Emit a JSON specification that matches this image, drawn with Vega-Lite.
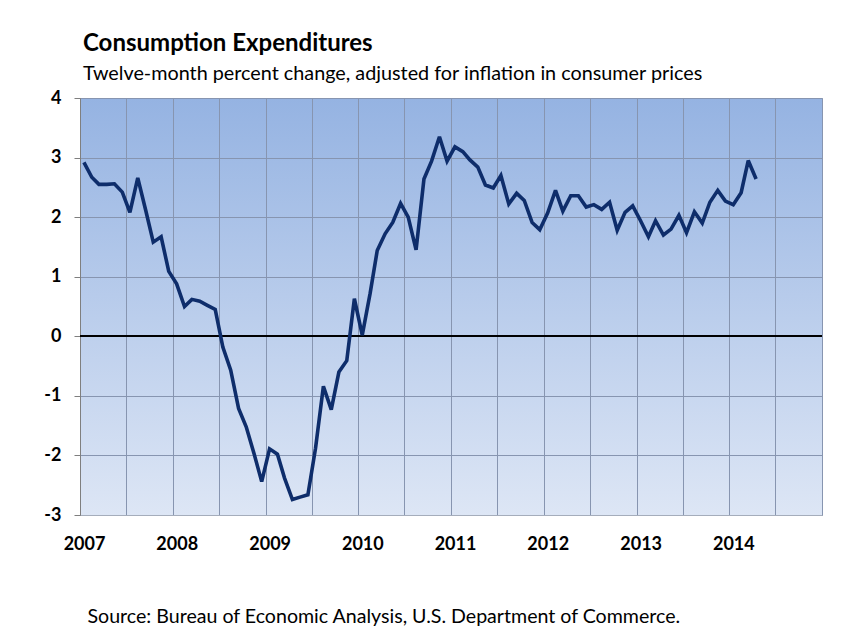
{
  "$schema": "https://vega.github.io/schema/vega-lite/v6.json",
  "width": 742,
  "height": 417,
  "autosize": {"type": "none"},
  "padding": {"left": 80, "top": 98, "right": 24, "bottom": 115},
  "background": "white",
  "view": {
    "fill": {"gradient": "linear", "x1": 0, "y1": 0, "x2": 0, "y2": 1, "stops": [{"offset": 0, "color": "#95B3E2"}, {"offset": 1, "color": "#DDE6F5"}]},
    "stroke": "#A5ADBB",
    "strokeWidth": 1
  },
  "title": {
    "text": "Consumption Expenditures",
    "subtitle": "Twelve-month percent change, adjusted for inflation in consumer prices",
    "anchor": "start",
    "frame": "group",
    "dx": 3,
    "offset": 5,
    "font": "Lato",
    "fontSize": 24,
    "fontWeight": "bold",
    "color": "#000000",
    "subtitleFont": "Lato",
    "subtitleFontSize": 19.8,
    "subtitleColor": "#000000",
    "subtitlePadding": 8
  },
  "data": {
    "values": [
      {"date": "2007-01-01", "value": 2.92}, {"date": "2007-02-01", "value": 2.67}, {"date": "2007-03-01", "value": 2.55}, {"date": "2007-04-01", "value": 2.55},
      {"date": "2007-05-01", "value": 2.56}, {"date": "2007-06-01", "value": 2.42}, {"date": "2007-07-01", "value": 2.08}, {"date": "2007-08-01", "value": 2.66},
      {"date": "2007-09-01", "value": 2.12}, {"date": "2007-10-01", "value": 1.58}, {"date": "2007-11-01", "value": 1.67}, {"date": "2007-12-01", "value": 1.09},
      {"date": "2008-01-01", "value": 0.88}, {"date": "2008-02-01", "value": 0.50}, {"date": "2008-03-01", "value": 0.62}, {"date": "2008-04-01", "value": 0.59},
      {"date": "2008-05-01", "value": 0.52}, {"date": "2008-06-01", "value": 0.45}, {"date": "2008-07-01", "value": -0.18}, {"date": "2008-08-01", "value": -0.57},
      {"date": "2008-09-01", "value": -1.21}, {"date": "2008-10-01", "value": -1.52}, {"date": "2008-11-01", "value": -1.97}, {"date": "2008-12-01", "value": -2.44},
      {"date": "2009-01-01", "value": -1.89}, {"date": "2009-02-01", "value": -1.98}, {"date": "2009-03-01", "value": -2.38}, {"date": "2009-04-01", "value": -2.74},
      {"date": "2009-05-01", "value": -2.70}, {"date": "2009-06-01", "value": -2.66}, {"date": "2009-07-01", "value": -1.88}, {"date": "2009-08-01", "value": -0.84},
      {"date": "2009-09-01", "value": -1.23}, {"date": "2009-10-01", "value": -0.60}, {"date": "2009-11-01", "value": -0.41}, {"date": "2009-12-01", "value": 0.63},
      {"date": "2010-01-01", "value": 0.02}, {"date": "2010-02-01", "value": 0.72}, {"date": "2010-03-01", "value": 1.44}, {"date": "2010-04-01", "value": 1.72},
      {"date": "2010-05-01", "value": 1.91}, {"date": "2010-06-01", "value": 2.23}, {"date": "2010-07-01", "value": 2.00}, {"date": "2010-08-01", "value": 1.45},
      {"date": "2010-09-01", "value": 2.64}, {"date": "2010-10-01", "value": 2.94}, {"date": "2010-11-01", "value": 3.35}, {"date": "2010-12-01", "value": 2.94},
      {"date": "2011-01-01", "value": 3.18}, {"date": "2011-02-01", "value": 3.10}, {"date": "2011-03-01", "value": 2.96}, {"date": "2011-04-01", "value": 2.84},
      {"date": "2011-05-01", "value": 2.54}, {"date": "2011-06-01", "value": 2.49}, {"date": "2011-07-01", "value": 2.70}, {"date": "2011-08-01", "value": 2.22},
      {"date": "2011-09-01", "value": 2.40}, {"date": "2011-10-01", "value": 2.28}, {"date": "2011-11-01", "value": 1.91}, {"date": "2011-12-01", "value": 1.79},
      {"date": "2012-01-01", "value": 2.07}, {"date": "2012-02-01", "value": 2.45}, {"date": "2012-03-01", "value": 2.10}, {"date": "2012-04-01", "value": 2.36},
      {"date": "2012-05-01", "value": 2.36}, {"date": "2012-06-01", "value": 2.17}, {"date": "2012-07-01", "value": 2.21}, {"date": "2012-08-01", "value": 2.13},
      {"date": "2012-09-01", "value": 2.25}, {"date": "2012-10-01", "value": 1.78}, {"date": "2012-11-01", "value": 2.08}, {"date": "2012-12-01", "value": 2.19},
      {"date": "2013-01-01", "value": 1.94}, {"date": "2013-02-01", "value": 1.67}, {"date": "2013-03-01", "value": 1.94}, {"date": "2013-04-01", "value": 1.70},
      {"date": "2013-05-01", "value": 1.80}, {"date": "2013-06-01", "value": 2.03}, {"date": "2013-07-01", "value": 1.74}, {"date": "2013-08-01", "value": 2.09},
      {"date": "2013-09-01", "value": 1.90}, {"date": "2013-10-01", "value": 2.25}, {"date": "2013-11-01", "value": 2.45}, {"date": "2013-12-01", "value": 2.27},
      {"date": "2014-01-01", "value": 2.21}, {"date": "2014-02-01", "value": 2.41}, {"date": "2014-03-01", "value": 2.95}, {"date": "2014-04-01", "value": 2.64}
    ]
  },
  "layer": [
    {
      "mark": {"type": "rule", "color": "#000000", "strokeWidth": 1.5},
      "encoding": {"y": {"datum": 0, "type": "quantitative"}}
    },
    {
      "mark": {"type": "line", "color": "#0E2D6B", "strokeWidth": 3.6, "strokeJoin": "miter", "strokeMiterLimit": 3},
      "encoding": {
        "x": {
          "field": "date",
          "type": "temporal",
          "scale": {
            "type": "utc",
            "domain": [{"year": 2006, "month": 12, "date": 16, "hours": 12, "utc": true}, {"year": 2014, "month": 12, "date": 16, "hours": 12, "utc": true}]
          },
          "axis": {
            "values": [
              {"year": 2006, "month": 12, "date": 16, "hours": 12, "utc": true},
              {"year": 2007, "month": 6, "date": 16, "utc": true},
              {"year": 2007, "month": 12, "date": 16, "hours": 12, "utc": true},
              {"year": 2008, "month": 6, "date": 16, "utc": true},
              {"year": 2008, "month": 12, "date": 16, "hours": 12, "utc": true},
              {"year": 2009, "month": 6, "date": 16, "utc": true},
              {"year": 2009, "month": 12, "date": 16, "hours": 12, "utc": true},
              {"year": 2010, "month": 6, "date": 16, "utc": true},
              {"year": 2010, "month": 12, "date": 16, "hours": 12, "utc": true},
              {"year": 2011, "month": 6, "date": 16, "utc": true},
              {"year": 2011, "month": 12, "date": 16, "hours": 12, "utc": true},
              {"year": 2012, "month": 6, "date": 16, "utc": true},
              {"year": 2012, "month": 12, "date": 16, "hours": 12, "utc": true},
              {"year": 2013, "month": 6, "date": 16, "utc": true},
              {"year": 2013, "month": 12, "date": 16, "hours": 12, "utc": true},
              {"year": 2014, "month": 6, "date": 16, "utc": true},
              {"year": 2014, "month": 12, "date": 16, "hours": 12, "utc": true}
            ],
            "labelExpr": "utcmonth(datum.value) == 11 && utcyear(datum.value) < 2014 ? '' + (utcyear(datum.value) + 1) : ''",
            "labelOffset": 4,
            "labelPadding": 20,
            "labelFont": "Lato",
            "labelFontSize": 18,
            "labelFontWeight": "bold",
            "labelColor": "#000000",
            "labelFlush": false,
            "labelOverlap": false,
            "ticks": false,
            "grid": true,
            "gridColor": "#8795B0",
            "gridWidth": 1,
            "domain": true,
            "domainColor": "#A5ADBB",
            "title": "Source: Bureau of Economic Analysis, U.S. Department of Commerce.",
            "titleFont": "Lato",
            "titleFontSize": 19.6,
            "titleFontWeight": "normal",
            "titleColor": "#000000",
            "titleAnchor": "start",
            "titleAlign": "left",
            "titleBaseline": "alphabetic",
            "titleX": 7,
            "titleY": 107
          }
        },
        "y": {
          "field": "value",
          "type": "quantitative",
          "scale": {"domain": [-3, 4], "nice": false, "zero": false},
          "axis": {
            "values": [-3, -2, -1, 0, 1, 2, 3, 4],
            "labelExpr": "'' + datum.value",
            "labelFont": "Lato",
            "labelFontSize": 18,
            "labelFontWeight": "bold",
            "labelColor": "#000000",
            "labelPadding": 13,
            "tickSize": 6,
            "tickColor": "#7F7F7F",
            "domainColor": "#7F7F7F",
            "grid": true,
            "gridColor": "#8795B0",
            "gridWidth": 1,
            "title": null
          }
        }
      }
    }
  ]
}
